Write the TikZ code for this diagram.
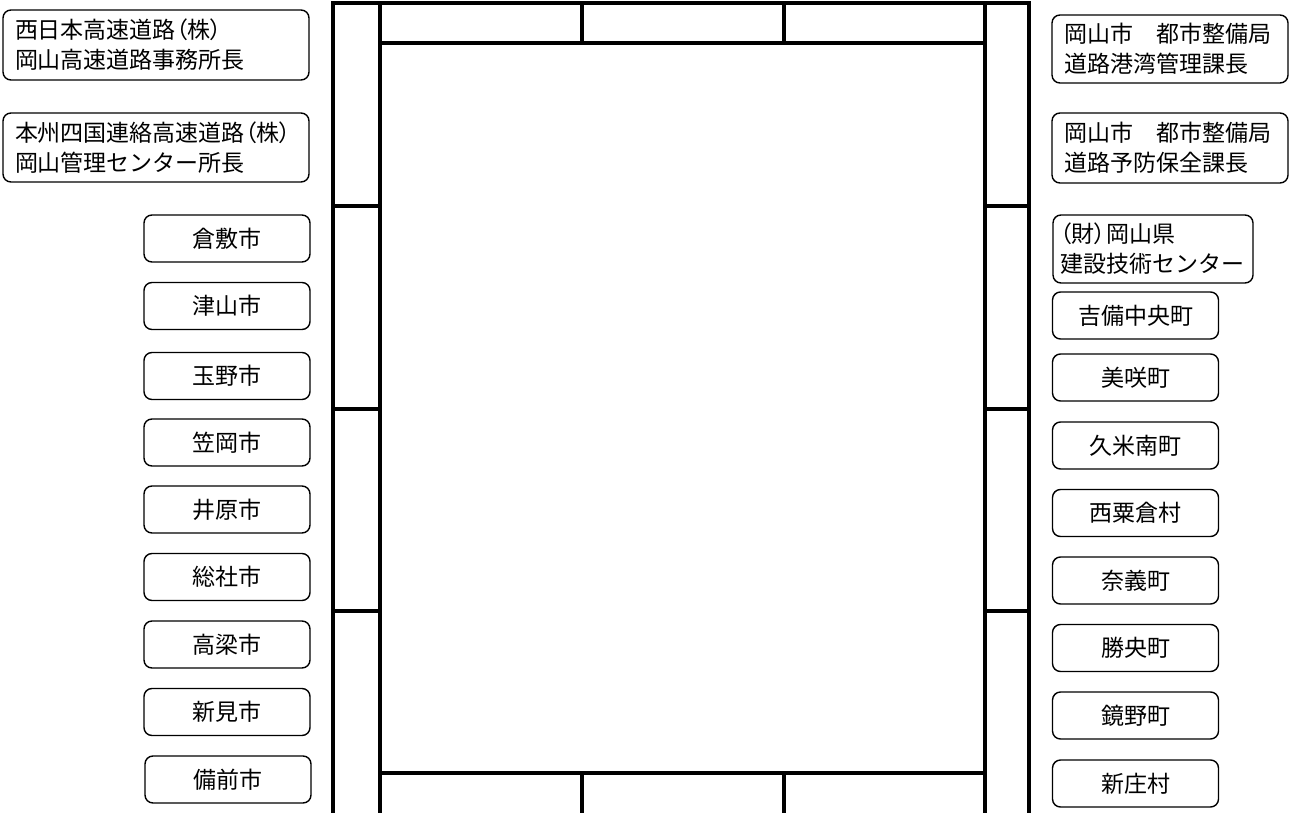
\documentclass[tikz,border=0pt]{standalone}
\usepackage{fontspec}
\newfontfamily\jpfont{Noto Sans CJK JP}
\newfontfamily\jppfont[RawFeature=+palt]{Noto Sans CJK JP}
\newcommand{\kakko}[1]{{\jppfont（}#1{\jppfont）}}

\begin{document}
\begin{tikzpicture}[x=0.5pt, y=-0.5pt,
    org/.style={draw, rounded corners=4pt, line width=0.7pt, align=left, inner xsep=6pt, inner ysep=0pt, font=\jpfont\fontsize{11.5}{15}\selectfont},
    town/.style={draw, rounded corners=4pt, line width=0.7pt, minimum width=83pt, minimum height=23.5pt, inner sep=0pt, align=center, font=\jpfont\fontsize{11.5}{14}\selectfont},
    frame/.style={line width=1.6pt, line join=miter},
]
    \useasboundingbox (0,0) rectangle (1290,813);

    % outer frame
    \draw[frame] (333,813) -- (333,3) -- (1029,3) -- (1029,813);
    \draw[frame] (380,3) -- (380,813);
    \draw[frame] (985,3) -- (985,813);
    \draw[frame] (380,43) -- (985,43);
    \draw[frame] (582,3) -- (582,43);
    \draw[frame] (784,3) -- (784,43);
    \draw[frame] (380,773) -- (985,773);
    \draw[frame] (582,773) -- (582,813);
    \draw[frame] (784,773) -- (784,813);
    \draw[frame] (333,206) -- (380,206);
    \draw[frame] (333,409) -- (380,409);
    \draw[frame] (333,611) -- (380,611);
    \draw[frame] (985,206) -- (1029,206);
    \draw[frame] (985,409) -- (1029,409);
    \draw[frame] (985,611) -- (1029,611);

    % left side
    \node[org, text width=141pt, minimum height=35pt]   (nexco)   at (156,45)    {西日本高速道路\kakko{株}\\岡山高速道路事務所長};
    \node[org, text width=141pt, minimum height=34.5pt] (honshi)  at (156,147.5) {本州四国連絡高速道路\kakko{株}\\岡山管理センター所長};
    \node[town] (kurashiki) at (227,238.5) {倉敷市};
    \node[town] (tsuyama)   at (227,306)   {津山市};
    \node[town] (tamano)    at (227,376)   {玉野市};
    \node[town] (kasaoka)   at (227,442.5) {笠岡市};
    \node[town] (ibara)     at (227,509.5) {井原市};
    \node[town] (soja)      at (227,577)   {総社市};
    \node[town] (takahashi) at (227,644.5) {高梁市};
    \node[town] (niimi)     at (227,712)   {新見市};
    \node[town] (bizen)     at (228,779.5) {備前市};

    % right side
    \node[org, text width=106pt, minimum height=34pt] (douro)  at (1170,49)  {岡山市　都市整備局\\道路港湾管理課長};
    \node[org, text width=106pt, minimum height=35pt] (yobou)  at (1170,148) {岡山市　都市整備局\\道路予防保全課長};
    \node[org, text width=93pt, inner xsep=3.5pt, minimum height=34pt] (kensetsu) at (1153,249) {\kakko{財}岡山県\\建設技術センター};
    \node[town] (kibichuo)   at (1135.5,315.5) {吉備中央町};
    \node[town] (misaki)     at (1135.5,377.5) {美咲町};
    \node[town] (kumenan)    at (1135.5,445.5) {久米南町};
    \node[town] (nishiawakura) at (1135.5,513) {西粟倉村};
    \node[town] (nagi)       at (1135.5,580.5) {奈義町};
    \node[town] (shoo)       at (1135.5,648)   {勝央町};
    \node[town] (kagamino)   at (1135.5,715.5) {鏡野町};
    \node[town] (shinjo)     at (1135.5,783.5) {新庄村};
\end{tikzpicture}
\end{document}
